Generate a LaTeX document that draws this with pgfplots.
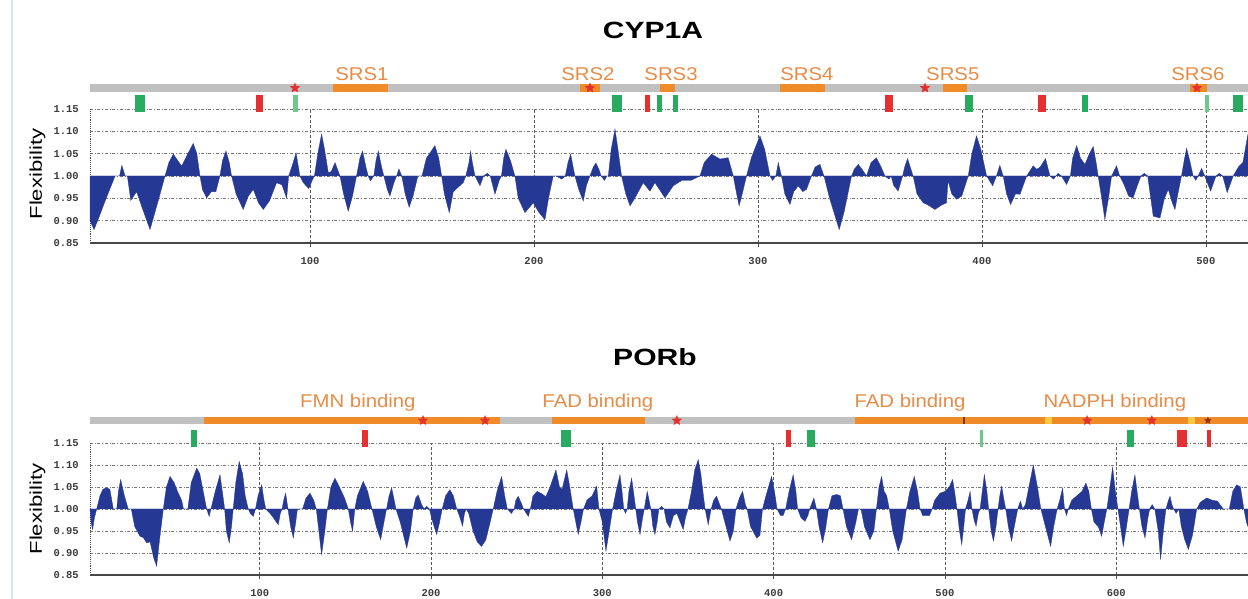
\documentclass[border=0pt]{standalone}
\usepackage{pgfplots}
\pgfplotsset{compat=1.18}
\usepackage{fontspec}
\setmainfont{Liberation Sans}
\newfontfamily\monofont{Liberation Mono}
\usetikzlibrary{shapes.geometric}

\definecolor{flexblue}{RGB}{36,56,148}
\definecolor{barorange}{RGB}{240,140,40}
\definecolor{txtorange}{RGB}{230,140,70}
\definecolor{bargray}{RGB}{192,192,192}
\definecolor{mred}{RGB}{228,48,48}
\definecolor{mgreen}{RGB}{40,170,95}
\definecolor{mlgreen}{RGB}{110,200,140}
\definecolor{myellow}{RGB}{250,200,60}
\definecolor{mbrown}{RGB}{120,60,20}
\definecolor{gridgray}{RGB}{120,120,120}
\definecolor{ticktext}{RGB}{60,60,60}
\definecolor{edgeblue}{RGB}{215,225,242}

\newcommand{\lab}[1]{\scalebox{1.1}[1]{\fontsize{18.5}{22}\selectfont #1}}

\tikzset{rstar/.style={star,star points=5,star point ratio=2.2,fill=mred,draw=none,inner sep=0pt,minimum size=11pt}}

\pgfplotsset{
 flex/.style={
   scale only axis,
   width=1158pt,
   ymin=0.85, ymax=1.15,
   ytick={0.85,0.90,0.95,1.00,1.05,1.10,1.15},
   axis x line*=bottom, axis y line*=left,
   x axis line style={-, black!72, line width=1.6pt},
   y axis line style={-, black!70, densely dotted, line width=0.9pt},
   ymajorgrids, xmajorgrids,
   y grid style={gridgray, dash dot, line width=0.6pt},
   x grid style={black!65, densely dashed, line width=0.6pt},
   major tick length=4pt,
   tick style={black!70, line width=0.6pt},
   ytick style={draw=none},
   tick align=outside,
   yticklabel={\pgfmathprintnumber[fixed,fixed zerofill,precision=2,assume math mode=true]{\tick}},
   xticklabel={\pgfmathprintnumber[assume math mode=true]{\tick}},
   ticklabel style={font=\monofont\bfseries\fontsize{10.5}{10.5}\selectfont, text=ticktext},
   yticklabel style={inner sep=0pt, xshift=-7pt},
   xticklabel style={inner sep=0pt, yshift=-10pt},
   clip=false,
 }
}

\begin{document}
\begin{tikzpicture}
\useasboundingbox (0,0) rectangle (1248pt,599pt);
\draw[edgeblue, line width=2pt] (12pt,0) -- (12pt,599pt);

% ---------------- CYP1A ----------------
\node at (653pt,569pt) {\scalebox{1.28}[1]{\fontsize{23.5}{28}\selectfont\bfseries CYP1A}};
\node[rotate=90] at (37.5pt,425pt) {\scalebox{1.3}[1]{\fontsize{17}{20}\selectfont Flexibility}};

\begin{axis}[flex, height=134pt, at={(90pt,356pt)}, anchor=south west,
  xmin=1.8, xmax=518.8, xtick={100,200,300,400,500}]
\addplot[fill=flexblue, draw=flexblue, line width=0.3pt] coordinates {
(1.8,1.00)(1.8,0.90)(3.6,0.88)(6,0.91)(9,0.95)(11,0.975)(13,1.00)(15,1.00)(16,1.024)(17.5,1.00)
(18.5,1.00)(20,0.945)(22.6,0.965)(25,0.93)(28.6,0.88)(32,0.94)(35.3,1.00)(37,1.03)(39,1.049)(42.7,1.022)
(45.5,1.05)(47.9,1.073)(49.5,1.05)(50.9,1.00)(52,0.97)(53.9,0.951)(56,0.965)(58,0.965)(59.8,1.00)(61,1.035)
(62.5,1.056)(64,1.03)(65,1.00)(67,0.96)(70.2,0.925)(72.5,0.955)(74.7,0.97)(77,0.94)(79.2,0.925)(82,0.945)
(85.1,0.985)(87.5,0.98)(89.6,0.95)(90.5,1.00)(92.5,1.03)(93.8,1.052)(95.5,1.00)(97,0.985)(99.5,0.972)(101,0.99)
(102,1.00)(103.5,1.05)(105.2,1.094)(106.5,1.06)(108.2,1.007)(109.5,1.01)(111.2,1.03)(113.4,1.00)(115,0.96)(117.1,0.921)
(119,0.955)(120.8,1.00)(122.3,1.04)(123.5,1.056)(125,1.02)(126,1.00)(127,0.989)(128.5,1.00)(129.5,1.035)(130.5,1.056)
(132,1.02)(133,1.00)(134.5,0.97)(135.7,0.955)(137.5,0.985)(138.7,1.00)(139.7,1.016)(141,1.00)(142.5,0.96)(144.3,0.93)
(146,0.955)(148.2,1.00)(150,1.00)(152,1.04)(155.8,1.068)(157.5,1.04)(158.8,1.00)(160,0.96)(162.2,0.918)(164,0.965)
(168.4,0.985)(169.6,1.00)(171,1.03)(171.7,1.056)(172.5,1.03)(173.7,1.00)(175.9,0.978)(177.5,1.00)(179.2,1.006)(180.5,1.00)
(182.6,0.959)(184.5,0.99)(185.5,1.00)(186.5,1.04)(187.5,1.06)(189.5,1.035)(191.5,1.00)(193,0.95)(196,0.918)(199.7,0.94)
(202,0.92)(204.9,0.902)(206.5,0.95)(208.6,1.00)(210,1.00)(212.4,0.993)(214,1.00)(215.2,1.03)(216.4,1.049)(217.5,1.02)
(218.3,1.00)(220,0.97)(222,0.944)(223.5,0.98)(225,1.00)(226.5,1.02)(227.7,1.029)(229,1.015)(230,1.00)(231.5,0.99)
(232.5,1.00)(233.2,1.00)(234.5,1.06)(236.2,1.105)(237.5,1.06)(239.1,1.00)(241,0.96)(242.9,0.933)(245,0.95)(248.8,0.985)
(251.8,0.966)(254,0.985)(256,0.97)(258.5,0.951)(262.2,0.978)(266,0.99)(270,0.99)(274.1,1.00)(276,1.03)(279.3,1.049)
(283,1.038)(286.7,1.041)(289,1.00)(290.5,0.96)(291.6,0.933)(293,0.96)(294.9,1.00)(297,1.04)(300.9,1.09)(303,1.06)
(305.4,1.00)(306.5,0.99)(308,1.00)(309.1,1.03)(310.5,1.00)(312,0.96)(314.3,0.936)(316,0.965)(318,0.978)(320,0.965)
(321.7,0.97)(323.9,1.00)(325.5,1.02)(327.7,1.026)(329.5,1.00)(332,0.95)(336.3,0.88)(338.5,0.92)(341.8,1.00)(343,1.015)
(344.8,1.026)(346.5,1.015)(348.5,1.00)(350.5,1.03)(352.9,1.041)(355,1.02)(356.7,1.00)(358.5,0.993)(359.5,1.00)(360.5,0.98)
(362.6,0.966)(364.6,1.00)(365.5,1.02)(366.8,1.039)(368,1.02)(369.3,1.00)(371,0.96)(373.8,0.94)(376,0.935)(379,0.925)
(382,0.935)(384.2,0.94)(384.9,0.99)(386.5,0.96)(388.7,0.948)(391,0.955)(393.9,1.00)(395.5,1.05)(397.6,1.09)(399.5,1.06)
(402.1,1.00)(404.8,0.978)(406.5,1.00)(408,1.024)(409.5,1.00)(411,0.96)(412.8,0.936)(415,0.96)(417,0.959)(420,1.00)
(422.9,1.023)(424.5,1.015)(426,1.02)(428.4,1.039)(430.4,1.00)(432,0.993)(434,1.006)(435.5,1.00)(437.8,0.981)(439.5,1.00)
(440.5,1.04)(442.3,1.068)(444,1.04)(446,1.026)(448,1.05)(449.7,1.066)(451,1.03)(451.9,1.00)(453.5,0.95)(454.9,0.902)
(456.5,0.95)(457.9,1.00)(460.1,1.023)(461.5,1.00)(463.5,0.98)(465.5,0.955)(467.5,0.951)(469.5,0.98)(471,1.00)(472.5,1.006)
(474,1.00)(476.5,0.91)(479.5,0.906)(481.5,0.95)(483.2,0.97)(485,0.94)(486.2,0.925)(487.5,0.96)(489.1,1.00)(490.5,1.04)
(491.4,1.062)(493,1.03)(494.3,1.00)(495.5,0.99)(496.5,1.00)(498.1,1.017)(499.5,1.00)(502.1,0.966)(504.5,1.00)(506,1.006)
(507.5,1.00)(509.5,0.963)(512.2,1.00)(514.5,1.02)(516.5,1.03)(518.8,1.094)(518.8,1.00)
} -- cycle;
% annotation bar
\fill[bargray] (1.8,1.188) rectangle (518.8,1.206);
\fill[barorange] (110.3,1.188) rectangle (134.8,1.206);
\fill[barorange] (220.5,1.188) rectangle (229.5,1.206);
\fill[barorange] (256.3,1.188) rectangle (262.9,1.206);
\fill[barorange] (309.8,1.188) rectangle (329.9,1.206);
\fill[barorange] (382.6,1.188) rectangle (393.3,1.206);
\fill[barorange] (492.9,1.188) rectangle (500.4,1.206);
\node[rstar] at (93.3,1.197) {};
\node[rstar] at (225,1.197) {};
\node[rstar] at (374.6,1.197) {};
\node[rstar] at (496,1.197) {};
\node[text=txtorange] at (123.2,1.228) {\lab{SRS1}};
\node[text=txtorange] at (224.1,1.228) {\lab{SRS2}};
\node[text=txtorange] at (261.2,1.228) {\lab{SRS3}};
\node[text=txtorange] at (321.9,1.228) {\lab{SRS4}};
\node[text=txtorange] at (387,1.228) {\lab{SRS5}};
\node[text=txtorange] at (496.4,1.228) {\lab{SRS6}};
% markers
\fill[mgreen] (21.9,1.143) rectangle (26.3,1.181);
\fill[mred] (75.9,1.143) rectangle (79,1.181);
\fill[mlgreen] (92.4,1.143) rectangle (94.6,1.181);
\fill[mgreen] (234.8,1.143) rectangle (239.3,1.181);
\fill[mred] (249.6,1.143) rectangle (251.8,1.181);
\fill[mgreen] (254.9,1.143) rectangle (257.1,1.181);
\fill[mgreen] (262.1,1.143) rectangle (264.3,1.181);
\fill[mred] (356.7,1.143) rectangle (360.3,1.181);
\fill[mgreen] (392.4,1.143) rectangle (396,1.181);
\fill[mred] (425,1.143) rectangle (428.6,1.181);
\fill[mgreen] (444.6,1.143) rectangle (447.3,1.181);
\fill[mlgreen] (499.6,1.143) rectangle (501.3,1.181);
\fill[mgreen] (512,1.143) rectangle (516.5,1.181);
\end{axis}

% ---------------- PORb ----------------
\node at (655pt,242pt) {\scalebox{1.28}[1]{\fontsize{23.5}{28}\selectfont\bfseries PORb}};
\node[rotate=90] at (37.5pt,90pt) {\scalebox{1.3}[1]{\fontsize{17}{20}\selectfont Flexibility}};

\begin{axis}[flex, height=132pt, at={(90pt,24pt)}, anchor=south west,
  xmin=0.9, xmax=676.9, xtick={100,200,300,400,500,600}]
\addplot[fill=flexblue, draw=flexblue, line width=0.3pt] coordinates {
(0.9,1.00)(1.5,0.97)(2.4,0.953)(3.5,0.98)(4.8,1.00)(6.7,1.03)(8.5,1.045)(10.6,1.048)(12.5,1.045)(14.5,1.00)
(16.5,1.00)(17.5,1.04)(18.8,1.067)(21,1.03)(23.2,1.00)(25,1.00)(27,0.96)(30.1,0.938)(32,0.935)(34,0.923)
(36,0.925)(38,0.89)(39.8,0.87)(41.5,0.93)(43.7,1.00)(45.5,1.05)(47.6,1.074)(50,1.06)(52,1.04)(54.4,1.02)
(55.5,1.00)(58,1.00)(60,1.06)(63.2,1.093)(65,1.08)(67,1.04)(69,1.00)(70.5,0.983)(71.5,1.00)(74,1.04)
(76.8,1.078)(78.5,1.03)(79.5,1.00)(80.5,0.95)(82.2,0.923)(83.5,0.96)(84.5,1.00)(86,1.06)(88,1.108)(90,1.08)
(91.5,1.03)(93.3,1.00)(94.5,0.99)(96.2,0.983)(97.5,1.00)(99,1.03)(101.1,1.055)(102.5,1.02)(103.5,1.00)(106,0.99)
(108,0.98)(110.8,0.964)(112,0.99)(113,1.00)(114,1.02)(115.1,1.036)(116.5,1.00)(118,0.96)(119.6,0.934)(121,0.97)
(122,1.00)(125,1.00)(127,1.025)(129.3,1.036)(131.5,1.02)(133,1.00)(134.5,0.95)(136.1,0.896)(138,0.95)(139.5,1.00)
(141.5,1.05)(143.9,1.07)(146.5,1.05)(149.5,1.025)(151.7,1.00)(153,0.97)(154.2,0.949)(155.5,1.00)(157,1.03)(160.4,1.063)
(163,1.04)(165.5,1.00)(168,0.96)(170.6,0.93)(172.5,0.97)(174,1.00)(175.5,1.03)(177,1.048)(178.5,1.02)(179.5,1.00)
(182,0.97)(185.8,0.911)(188,0.95)(189.6,1.00)(191,1.025)(192.5,1.032)(194.5,1.01)(196,1.00)(197.5,1.006)(199,1.00)
(201,0.97)(203.3,0.942)(205,0.97)(206.5,1.00)(208.5,1.03)(211,1.044)(213,1.03)(215,1.00)(216.5,0.985)(218.4,0.961)
(219.5,0.99)(220.5,1.00)(222,0.99)(224.5,0.95)(227,0.925)(229.5,0.915)(232,0.93)(234.5,0.97)(236.3,1.00)(238.5,1.04)
(241.2,1.074)(243,1.03)(244.5,1.00)(247,0.99)(248.5,1.00)(249.5,1.02)(250.9,1.029)(252.5,1.015)(254,1.00)(256.8,0.983)
(258,1.00)(259.5,1.03)(262,1.04)(264.5,1.035)(267,1.028)(269.5,1.05)(272.9,1.089)(275,1.05)(276.5,1.045)(279.2,1.089)
(281,1.05)(283,1.00)(284.5,0.97)(285.9,0.942)(287.5,0.97)(289,1.00)(291,1.02)(294,1.03)(296.7,1.052)(298,1.00)
(300,0.97)(302.1,0.904)(304,0.95)(306,1.00)(308,1.04)(310.3,1.078)(311.5,1.04)(312.5,1.00)(313.5,0.99)(314.5,1.00)
(315.5,1.04)(317.1,1.07)(318.5,1.03)(319.5,1.00)(320.5,0.97)(322,0.942)(323.5,0.98)(324.5,1.00)(325.3,1.02)(326.2,1.04)
(327.3,1.02)(328.3,1.00)(329.5,0.96)(330.7,0.942)(332,0.97)(333,1.00)(334.5,1.006)(336,1.00)(337.5,0.97)(339.5,0.957)
(341.5,0.985)(343.5,0.99)(345.5,0.97)(347.2,0.953)(348.5,0.98)(350,1.00)(352,1.04)(354,1.09)(356,1.112)(357.5,1.08)
(359,1.03)(360,1.00)(361.8,0.964)(363.5,1.00)(365,1.02)(366.7,1.029)(368.5,1.01)(369.5,1.00)(371.5,0.97)(374.5,0.927)
(376.5,0.95)(378,1.00)(380,1.025)(381.9,1.04)(383.5,1.01)(384.5,1.00)(386.5,0.96)(390.1,0.934)(392,0.94)(393.5,1.00)
(395.5,1.03)(398.8,1.074)(400.5,1.04)(402,1.00)(404,0.985)(405.5,0.985)(407,1.00)(409,1.04)(411.4,1.078)(413,1.04)
(414,1.00)(416,0.98)(418.3,0.972)(420,0.985)(421,1.00)(422.5,1.015)(423.5,1.025)(425,1.00)(426.5,0.96)(428.6,0.923)
(430.5,0.96)(432,1.00)(434,1.03)(436.8,1.033)(439,1.03)(440.5,1.00)(442.5,0.96)(445.5,0.93)(448,0.97)(449.5,1.00)
(451,1.00)(453,0.96)(456.2,0.93)(458.5,0.95)(460,1.00)(461.5,1.05)(463,1.074)(464.5,1.04)(466,1.03)(467.5,1.00)
(469.5,0.95)(472.7,0.904)(475,0.93)(477.5,1.00)(479.5,1.04)(482.1,1.074)(484,1.04)(485.5,1.00)(487,0.985)(491,0.985)
(492.5,1.00)(494,1.02)(497.1,1.036)(500,1.04)(502.5,1.05)(504.5,1.067)(506,1.03)(507,1.00)(508.5,0.95)(509.8,0.919)
(511,0.96)(512,1.00)(513.5,1.02)(514.7,1.04)(515.8,1.00)(517,0.975)(518.2,0.961)(519.5,0.99)(520.5,1.00)(521.8,1.04)
(523,1.078)(524.5,1.04)(525.5,1.00)(527,0.95)(528.3,0.927)(529.8,0.96)(531,1.00)(532,1.03)(533.1,1.052)(534.5,1.02)
(535.5,1.00)(537,0.96)(538.9,0.927)(541,0.97)(542.5,1.00)(544,1.018)(545.5,1.00)(547,1.01)(549,1.05)(551.6,1.1)
(554,1.05)(556,1.00)(558,0.97)(560,0.94)(561.7,0.915)(563.5,0.96)(565.5,1.00)(567,1.02)(568.7,1.048)(569.8,1.00)
(571,0.985)(572,1.00)(574,1.02)(577,1.03)(580,1.04)(582.3,1.059)(584,1.04)(585.5,1.00)(587,0.97)(589.5,0.96)
(591.5,0.938)(593,0.97)(594.5,1.00)(596,1.04)(597.9,1.095)(599.5,1.04)(601,1.00)(602.5,0.96)(604.1,0.915)(606,0.96)
(607.5,1.00)(609,1.04)(610.9,1.078)(612.5,1.03)(613.5,1.00)(615,0.96)(616.8,0.934)(618.5,0.98)(619.5,1.00)(621,1.01)
(622.5,1.00)(624.5,0.95)(625.9,0.885)(627.5,0.95)(629,1.00)(630.5,1.02)(631.4,1.029)(632.5,1.01)(633.5,1.00)(635,0.99)
(636.5,1.00)(638,0.96)(640,0.93)(642.1,0.908)(644.5,0.94)(647,1.00)(649,1.015)(652.8,1.025)(656,1.02)(659,1.018)
(662.5,1.00)(666,1.00)(668,1.04)(670.3,1.055)(672.5,1.05)(674.5,1.00)(676,0.97)(676.9,0.96)(676.9,1.00)
} -- cycle;
% annotation bar
\fill[bargray] (0.9,1.193) rectangle (676.9,1.209);
\fill[barorange] (67.4,1.193) rectangle (240.2,1.209);
\fill[barorange] (270.6,1.193) rectangle (324.9,1.209);
\fill[barorange] (447.4,1.193) rectangle (676.9,1.209);
\fill[myellow] (558.4,1.193) rectangle (562.5,1.209);
\fill[myellow] (642,1.193) rectangle (646,1.209);
\fill[mbrown] (510.5,1.193) rectangle (511.8,1.209);
\node[rstar] at (195.3,1.201) {};
\node[rstar] at (231.5,1.201) {};
\node[rstar] at (343.5,1.201) {};
\node[rstar] at (583,1.201) {};
\node[rstar] at (620.8,1.201) {};
\node[rstar, fill=mbrown!80!red, minimum size=8pt] at (653.5,1.201) {};
\node[text=txtorange] at (157.3,1.241) {\lab{FMN binding}};
\node[text=txtorange] at (297.4,1.241) {\lab{FAD binding}};
\node[text=txtorange] at (479.6,1.241) {\lab{FAD binding}};
\node[text=txtorange] at (599.2,1.241) {\lab{NADPH binding}};
% markers
\fill[mgreen] (59.8,1.141) rectangle (63.3,1.18);
\fill[mred] (159.7,1.141) rectangle (163.1,1.18);
\fill[mgreen] (275.8,1.141) rectangle (281.7,1.18);
\fill[mred] (407.2,1.141) rectangle (410.1,1.18);
\fill[mgreen] (419.4,1.141) rectangle (424.1,1.18);
\fill[mlgreen] (520.4,1.141) rectangle (522.2,1.18);
\fill[mgreen] (606.2,1.141) rectangle (610.3,1.18);
\fill[mred] (635.4,1.141) rectangle (641.3,1.18);
\fill[mred] (653,1.141) rectangle (655.4,1.18);
\end{axis}
\end{tikzpicture}
\end{document}
